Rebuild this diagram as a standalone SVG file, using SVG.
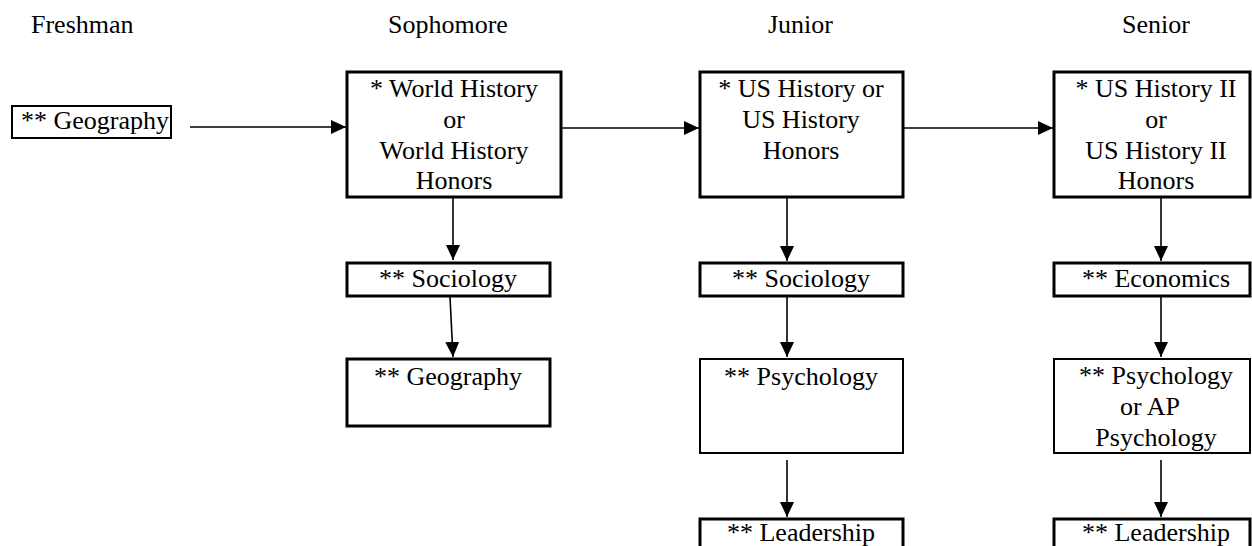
<svg xmlns="http://www.w3.org/2000/svg" width="1252" height="546" viewBox="0 0 1252 546">
<defs>
<style>
text{font-family:"Liberation Serif","Times New Roman",serif;font-size:26px;fill:#000}
.c{text-anchor:middle}
.b3{fill:#fff;stroke:#000;stroke-width:3}
.b2{fill:#fff;stroke:#000;stroke-width:2}
.ln{stroke:#000;stroke-width:1.6;fill:none;marker-end:url(#ah)}
</style>
<marker id="ah" viewBox="0 0 15 14" refX="15" refY="7" markerWidth="15" markerHeight="14" markerUnits="userSpaceOnUse" orient="auto">
<path d="M0,0 L15,7 L0,14 Z" fill="#000"/>
</marker>
</defs>
<rect width="1252" height="546" fill="#fff"/>
<g id="headers">
<text x="31" y="33">Freshman</text>
<text x="388" y="33">Sophomore</text>
<text x="768" y="33">Junior</text>
<text x="1122" y="33">Senior</text>
</g>
<g id="connectors">
<line class="ln" x1="190" y1="127" x2="346" y2="127"/>
<line class="ln" x1="555" y1="128" x2="699" y2="128"/>
<line class="ln" x1="903" y1="128" x2="1053" y2="128"/>
<line class="ln" x1="453" y1="198" x2="453" y2="260"/>
<line class="ln" x1="450" y1="297" x2="453" y2="357"/>
<line class="ln" x1="787" y1="198" x2="787" y2="261"/>
<line class="ln" x1="787" y1="297" x2="787" y2="357"/>
<line class="ln" x1="787" y1="460" x2="787" y2="517"/>
<line class="ln" x1="1161" y1="198" x2="1161" y2="261"/>
<line class="ln" x1="1161" y1="297" x2="1161" y2="357"/>
<line class="ln" x1="1161" y1="460" x2="1161" y2="517"/>
</g>
<g id="fr_geography">
<rect class="b2" x="12" y="106" width="159" height="32"/>
<text x="21" y="129">** Geography</text>
</g>
<g id="so_world">
<rect class="b3" x="347" y="72" width="214" height="125"/>
<text class="c" x="454" y="97">* World History</text>
<text class="c" x="454" y="128">or</text>
<text class="c" x="454" y="159">World History</text>
<text class="c" x="454" y="189">Honors</text>
</g>
<g id="so_sociology">
<rect class="b3" x="347" y="263" width="203" height="33"/>
<text class="c" x="448" y="287">** Sociology</text>
</g>
<g id="so_geography">
<rect class="b3" x="347" y="359" width="203" height="67"/>
<text class="c" x="448" y="385">** Geography</text>
</g>
<g id="ju_us">
<rect class="b3" x="700" y="72" width="203" height="125"/>
<text class="c" x="801" y="97">* US History or</text>
<text class="c" x="801" y="128">US History</text>
<text class="c" x="801" y="159">Honors</text>
</g>
<g id="ju_sociology">
<rect class="b3" x="700" y="263" width="203" height="33"/>
<text class="c" x="801" y="287">** Sociology</text>
</g>
<g id="ju_psychology">
<rect class="b2" x="700" y="359" width="203" height="94"/>
<text class="c" x="801" y="385">** Psychology</text>
</g>
<g id="ju_leadership">
<rect class="b3" x="700" y="519" width="203" height="40"/>
<text class="c" x="801" y="541">** Leadership</text>
</g>
<g id="se_us2">
<rect class="b3" x="1054" y="72" width="196" height="125"/>
<text class="c" x="1156" y="97">* US History II</text>
<text class="c" x="1156" y="128">or</text>
<text class="c" x="1156" y="159">US History II</text>
<text class="c" x="1156" y="189">Honors</text>
</g>
<g id="se_economics">
<rect class="b3" x="1054" y="263" width="196" height="33"/>
<text class="c" x="1156" y="287">** Economics</text>
</g>
<g id="se_psychology">
<rect class="b2" x="1054" y="359" width="196" height="94"/>
<text class="c" x="1156" y="384">** Psychology</text>
<text class="c" x="1150" y="415">or AP</text>
<text class="c" x="1156" y="446">Psychology</text>
</g>
<g id="se_leadership">
<rect class="b3" x="1054" y="519" width="196" height="40"/>
<text class="c" x="1156" y="541">** Leadership</text>
</g>
</svg>
